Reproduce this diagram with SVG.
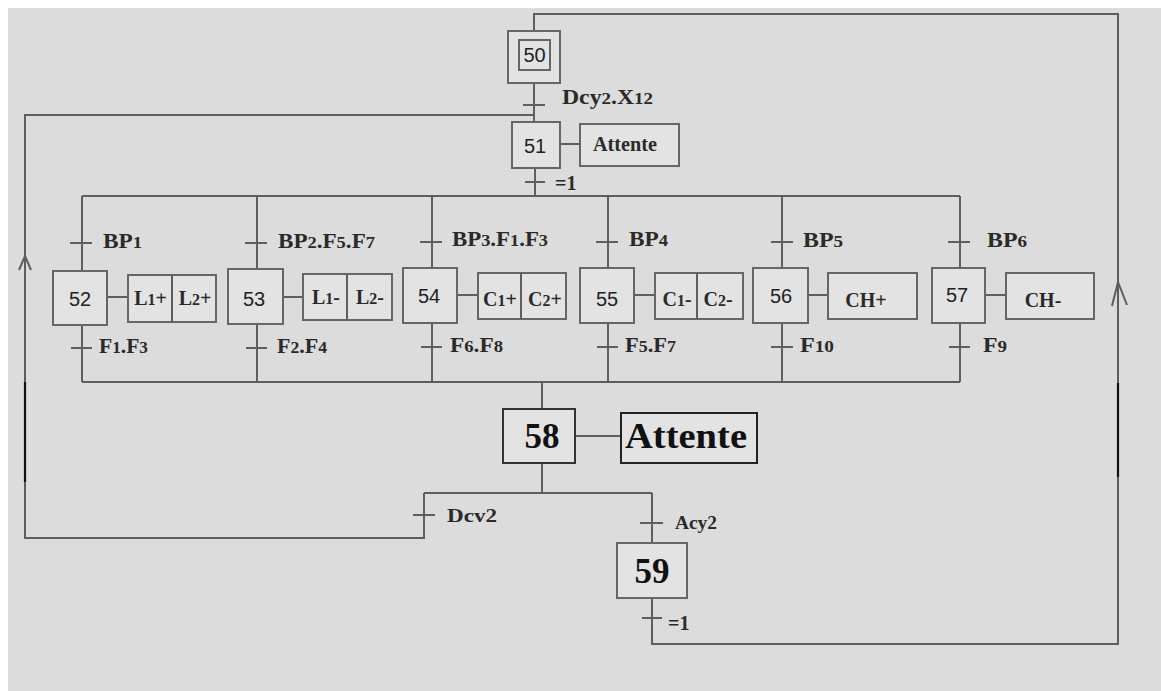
<svg xmlns="http://www.w3.org/2000/svg" width="1161" height="691" viewBox="0 0 1161 691">
<style>
.ln{fill:none;stroke:#5e5e5e;stroke-width:2}
.dk{fill:none;stroke:#111;stroke-width:2.2}
.bx{fill:#e3e3e3;stroke:#666;stroke-width:2}
.bx2{fill:#e3e3e3;stroke:#333;stroke-width:2}
.num{font-family:"Liberation Sans","DejaVu Sans",sans-serif;font-size:20px;fill:#222;text-anchor:middle}
.lbl{font-family:"Liberation Serif","DejaVu Serif",serif;font-size:20px;font-weight:bold;fill:#2a2a2a}
.act{font-family:"Liberation Serif","DejaVu Serif",serif;font-size:20px;font-weight:bold;fill:#2a2a2a;text-anchor:middle}
.big{font-family:"Liberation Serif","DejaVu Serif",serif;font-size:35px;font-weight:bold;fill:#111;text-anchor:middle}
.d{font-size:16px}
</style>
<rect x="0" y="0" width="1161" height="691" fill="#ffffff"/>
<rect x="8" y="8" width="1153" height="683" fill="#dcdcdc"/>

<g id="connectors">
  <path class="ln" d="M652,598 V644 H1118 V14 H534 V31"/>
  <path class="ln" d="M534,83 V122"/>
  <path class="ln" d="M424,493 V538 H25 V115 H534"/>
  <path class="ln" d="M535,168 V196"/>
  <path class="ln" d="M82,196 H960"/>
  <path class="ln" d="M82,382 H960"/>
  <path class="ln" d="M82,196 V271 M82,325 V382"/>
  <path class="ln" d="M257,196 V269 M257,324 V382"/>
  <path class="ln" d="M432,196 V268 M432,323 V382"/>
  <path class="ln" d="M608,196 V268 M608,323 V382"/>
  <path class="ln" d="M782,196 V268 M782,323 V382"/>
  <path class="ln" d="M960,196 V268 M960,323 V382"/>
  <path class="ln" d="M542,382 V409"/>
  <path class="ln" d="M542,463 V493 M424,493 H652 M652,493 V543"/>
  <path class="ln" d="M560,144 H580 M107,297 H128 M283,297 H303 M457,295 H478 M634,295 H655 M808,295 H828 M985,295 H1006"/>
  <path class="ln" stroke="#333" d="M575,436 H621"/>
  <path class="ln" d="M523,105 H545 M525,182 H545"/>
  <path class="ln" d="M70,243 H92 M245,243 H267 M420,242 H442 M596,242 H618 M771,242 H793 M948,242 H970"/>
  <path class="ln" d="M71,348 H92 M246,348 H267 M421,347 H442 M597,347 H618 M771,347 H793 M949,347 H970"/>
  <path class="ln" d="M413,515 H435 M640,523 H663 M642,618 H662"/>
  <path class="ln" d="M19,270 L25,256 L31,270"/>
  <path class="ln" d="M1112,306 L1118,282 L1127,305"/>
  <path class="dk" d="M25,382 V482"/>
  <path class="dk" d="M1118,383 V477"/>
</g>

<g id="transitions">
  <text class="lbl" x="562" y="104" textLength="91" lengthAdjust="spacingAndGlyphs">Dcy<tspan class="d">2</tspan>.X<tspan class="d">12</tspan></text>
  <text class="lbl" x="555" y="190">=1</text>
  <text class="lbl" x="103" y="248" textLength="39" lengthAdjust="spacingAndGlyphs">BP<tspan class="d">1</tspan></text>
  <text class="lbl" x="99" y="353" textLength="49" lengthAdjust="spacingAndGlyphs">F<tspan class="d">1</tspan>.F<tspan class="d">3</tspan></text>
  <text class="lbl" x="278" y="248" textLength="97" lengthAdjust="spacingAndGlyphs">BP<tspan class="d">2</tspan>.F<tspan class="d">5</tspan>.F<tspan class="d">7</tspan></text>
  <text class="lbl" x="277" y="353" textLength="50" lengthAdjust="spacingAndGlyphs">F<tspan class="d">2</tspan>.F<tspan class="d">4</tspan></text>
  <text class="lbl" x="452" y="246" textLength="96" lengthAdjust="spacingAndGlyphs">BP<tspan class="d">3</tspan>.F<tspan class="d">1</tspan>.F<tspan class="d">3</tspan></text>
  <text class="lbl" x="450" y="352" textLength="53" lengthAdjust="spacingAndGlyphs">F<tspan class="d">6</tspan>.F<tspan class="d">8</tspan></text>
  <text class="lbl" x="629" y="246" textLength="39" lengthAdjust="spacingAndGlyphs">BP<tspan class="d">4</tspan></text>
  <text class="lbl" x="625" y="352" textLength="51" lengthAdjust="spacingAndGlyphs">F<tspan class="d">5</tspan>.F<tspan class="d">7</tspan></text>
  <text class="lbl" x="803" y="247" textLength="40" lengthAdjust="spacingAndGlyphs">BP<tspan class="d">5</tspan></text>
  <text class="lbl" x="800" y="352" textLength="34" lengthAdjust="spacingAndGlyphs">F<tspan class="d">10</tspan></text>
  <text class="lbl" x="987" y="247" textLength="40" lengthAdjust="spacingAndGlyphs">BP<tspan class="d">6</tspan></text>
  <text class="lbl" x="983" y="352" textLength="24" lengthAdjust="spacingAndGlyphs">F<tspan class="d">9</tspan></text>
  <text class="lbl" x="447" y="522" textLength="50" lengthAdjust="spacingAndGlyphs" style="font-size:18px">Dcv2</text>
  <text class="lbl" x="675" y="529" textLength="42" lengthAdjust="spacingAndGlyphs" style="font-size:18px">Acy2</text>
  <text class="lbl" x="668" y="630">=1</text>
</g>

<g id="step50">
  <rect class="bx" x="508" y="31" width="52" height="52"/>
  <rect class="bx" x="519" y="40" width="31" height="30"/>
  <text class="num" x="534.5" y="62">50</text>
</g>
<g id="step51">
  <rect class="bx" x="512" y="122" width="48" height="46"/>
  <text class="num" x="535" y="153">51</text>
</g>
<g id="action51">
  <rect class="bx" x="580" y="124" width="99" height="42"/>
  <text class="act" x="625" y="151" textLength="64" lengthAdjust="spacingAndGlyphs">Attente</text>
</g>

<g id="step52">
  <rect class="bx" x="53" y="271" width="54" height="54"/>
  <text class="num" x="80" y="306">52</text>
</g>
<g id="action52">
  <rect class="bx" x="128" y="275" width="88" height="47"/>
  <path class="ln" d="M172,275 V322"/>
  <text class="act" x="150.5" y="305">L<tspan class="d">1</tspan>+</text>
  <text class="act" x="195" y="305">L<tspan class="d">2</tspan>+</text>
</g>

<g id="step53">
  <rect class="bx" x="228" y="269" width="55" height="55"/>
  <text class="num" x="254" y="306">53</text>
</g>
<g id="action53">
  <rect class="bx" x="303" y="274" width="89" height="46"/>
  <path class="ln" d="M347,274 V320"/>
  <text class="act" x="326" y="304">L<tspan class="d">1</tspan>-</text>
  <text class="act" x="370" y="304">L<tspan class="d">2</tspan>-</text>
</g>

<g id="step54">
  <rect class="bx" x="403" y="268" width="54" height="55"/>
  <text class="num" x="429" y="303">54</text>
</g>
<g id="action54">
  <rect class="bx" x="478" y="273" width="88" height="46"/>
  <path class="ln" d="M521,273 V319"/>
  <text class="act" x="500" y="306">C<tspan class="d">1</tspan>+</text>
  <text class="act" x="545" y="306">C<tspan class="d">2</tspan>+</text>
</g>

<g id="step55">
  <rect class="bx" x="580" y="268" width="54" height="55"/>
  <text class="num" x="607" y="306">55</text>
</g>
<g id="action55">
  <rect class="bx" x="655" y="273" width="88" height="46"/>
  <path class="ln" d="M697,273 V319"/>
  <text class="act" x="677" y="306">C<tspan class="d">1</tspan>-</text>
  <text class="act" x="718" y="306">C<tspan class="d">2</tspan>-</text>
</g>

<g id="step56">
  <rect class="bx" x="753" y="268" width="55" height="55"/>
  <text class="num" x="781" y="303">56</text>
</g>
<g id="action56">
  <rect class="bx" x="828" y="273" width="89" height="46"/>
  <text class="act" x="866" y="307">CH+</text>
</g>

<g id="step57">
  <rect class="bx" x="932" y="268" width="53" height="55"/>
  <text class="num" x="957" y="302">57</text>
</g>
<g id="action57">
  <rect class="bx" x="1006" y="273" width="88" height="46"/>
  <text class="act" x="1043" y="307">CH-</text>
</g>

<g id="step58">
  <rect class="bx2" x="503" y="409" width="72" height="54"/>
  <text class="big" x="542" y="448">58</text>
</g>
<g id="action58">
  <rect class="bx2" x="621" y="413" width="136" height="50" style="stroke:#222"/>
  <text class="big" x="686" y="448" textLength="122" lengthAdjust="spacingAndGlyphs">Attente</text>
</g>

<g id="step59">
  <rect class="bx" x="617" y="543" width="70" height="55"/>
  <text class="big" x="652" y="583">59</text>
</g>
</svg>
